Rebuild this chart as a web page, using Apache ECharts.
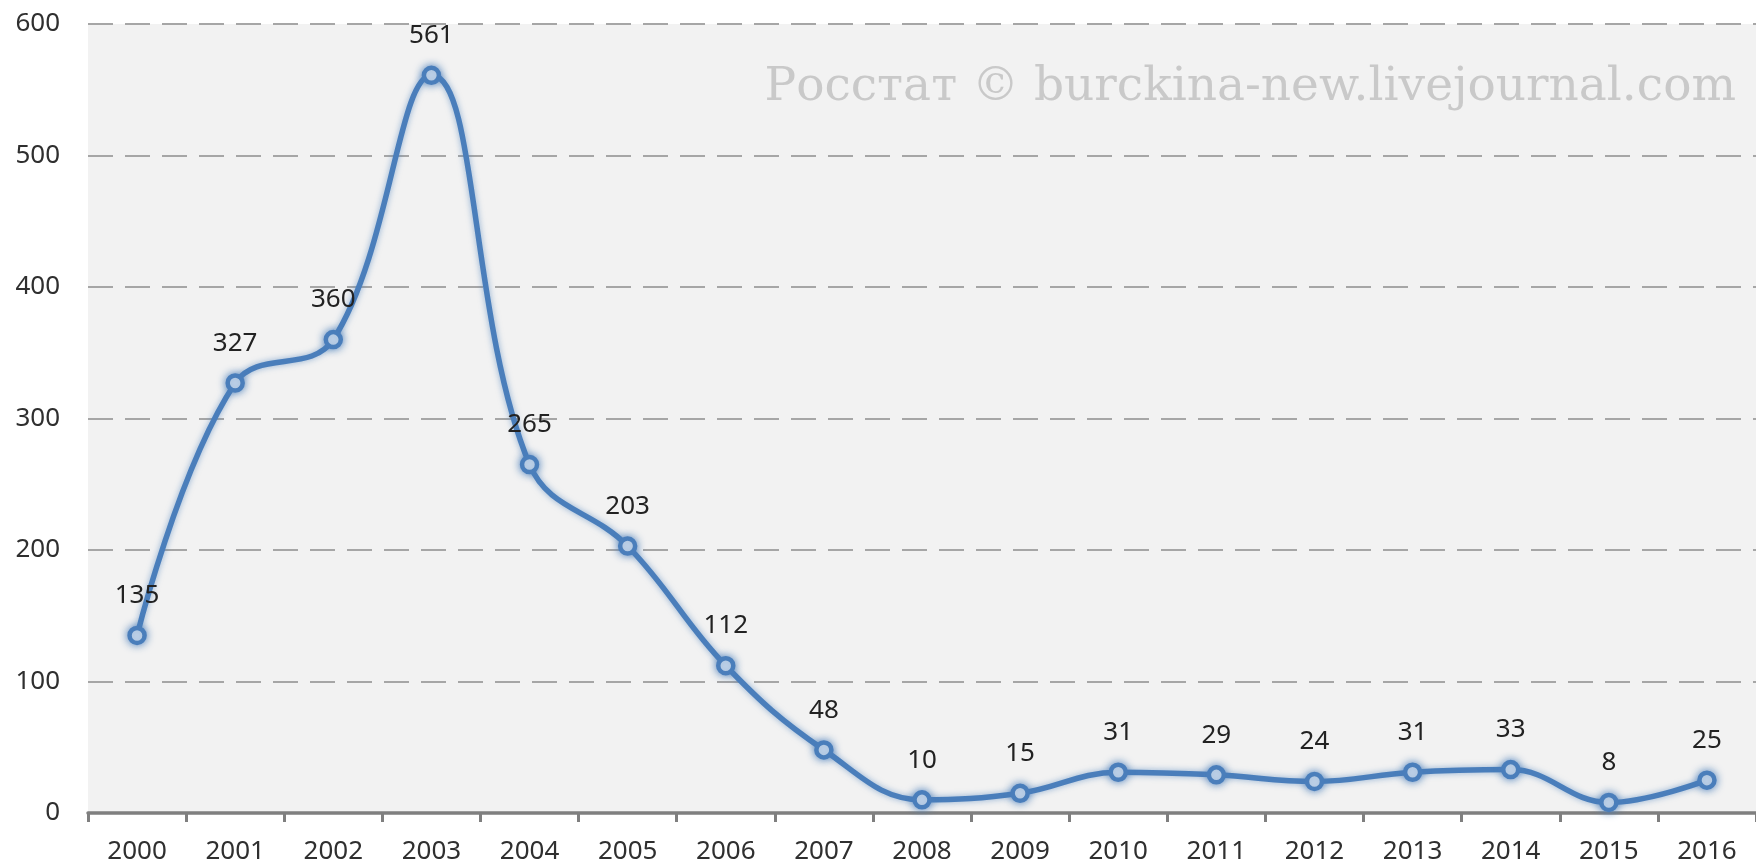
<!DOCTYPE html>
<html>
<head>
<meta charset="utf-8">
<script src="https://cdn.jsdelivr.net/npm/echarts@6/dist/echarts.min.js"></script>
<style>
  html, body { margin: 0; padding: 0; background: #fff; }
  #main { width: 1756px; height: 867px; }
</style>
</head>
<body>
<div id="main"></div>
<script>
const years = ['2000', '2001', '2002', '2003', '2004', '2005', '2006', '2007', '2008',
  '2009', '2010', '2011', '2012', '2013', '2014', '2015', '2016']
const values = [135, 327, 360, 561, 265, 203, 112, 48, 10, 15, 31, 29, 24, 31, 33, 8, 25]
const watermark = 'Росстат © burckina-new.livejournal.com'

const blue = '#4a7ebb'
const font = '"Noto Sans", sans-serif'

const option = {
  backgroundColor: '#fff',
  animation: false,
  grid: {
    left: 88,
    right: 0,
    top: 24,
    bottom: 54,
    show: true,
    backgroundColor: '#f2f2f2',
    borderWidth: 0
  },
  graphic: [
    {
      type: 'text',
      right: 20,
      top: 64,
      z: 1,
      style: {
        text: watermark,
        fill: '#c9c9c9',
        font: '47px "DejaVu Serif", serif'
      }
    }
  ],
  xAxis: {
    type: 'category',
    data: years,
    boundaryGap: true,
    axisLine: { lineStyle: { color: '#7f7f7f', width: 3.5 } },
    axisTick: { show: true, length: 9, lineStyle: { color: '#7f7f7f', width: 3 } },
    axisLabel: { color: '#2f2f2f', fontSize: 26, fontFamily: font, margin: 26 },
    splitLine: { show: false }
  },
  yAxis: {
    type: 'value',
    min: 0,
    max: 600,
    interval: 100,
    axisLine: { show: false },
    axisTick: { show: false },
    axisLabel: { color: '#2f2f2f', fontSize: 26, fontFamily: font, margin: 28 },
    splitLine: {
      lineStyle: { color: '#a6a6a6', width: 2, type: [25, 12] }
    }
  },
  series: [
    {
      type: 'line',
      data: values,
      smooth: 0.4,
      z: 3,
      symbol: 'circle',
      symbolSize: 15,
      lineStyle: {
        color: blue,
        width: 5.5,
        shadowBlur: 6,
        shadowColor: 'rgba(74,126,187,0.6)'
      },
      itemStyle: {
        color: '#fff',
        borderColor: blue,
        borderWidth: 4.5,
        shadowBlur: 9,
        shadowColor: 'rgba(74,126,187,0.9)'
      },
      label: {
        show: true,
        position: 'top',
        distance: 17,
        color: '#222',
        fontSize: 26,
        fontFamily: font
      }
    }
  ]
}

const chart = echarts.init(document.getElementById('main'))
chart.setOption(option)
</script>
</body>
</html>
